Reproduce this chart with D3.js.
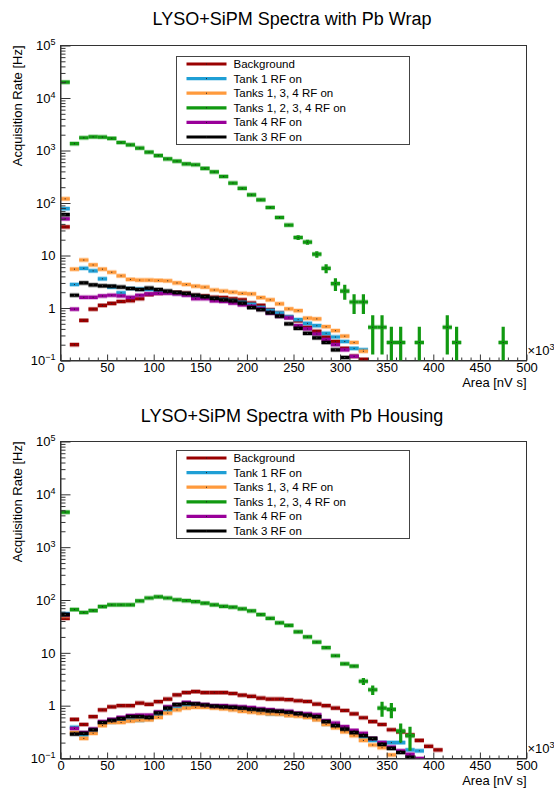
<!DOCTYPE html>
<html>
<head>
<meta charset="utf-8">
<script src="https://cdn.jsdelivr.net/npm/d3@7"></script>
<style>
  body { margin: 0; background: #fff; }
  svg { display: block; font-family: "Liberation Sans", Arial, sans-serif; }
</style>
</head>
<body>
<script>
// bin i covers [i*binWidth, (i+1)*binWidth) in units of 10^3 nV s
const binWidth = 10;
const xTicks = [0, 50, 100, 150, 200, 250, 300, 350, 400, 450, 500];
const yMajor = [0.1, 1, 10, 100, 1000, 10000, 100000];

const seriesNames = ['Background', 'Tank 1 RF on', 'Tanks 1, 3, 4 RF on', 'Tanks 1, 2, 3, 4 RF on', 'Tank 4 RF on', 'Tank 3 RF on'];
const seriesColors = ['#990000', '#1f9fd5', '#ff9a3c', '#119911', '#990099', '#000000'];

// ---- Pb Wrap (rates in Hz) ----
const wrapBackground = [35, 0.2, 0.58, 0.95, 1.12, 1.22, 1.33, 1.38, 1.5, 1.8, 1.9, 2.0, 1.98, 1.9, 1.75, 1.7, 1.6, 1.58, 1.5, 1.43, 1.24, 1.12, 0.93, 0.8, 0.67, 0.57, 0.43, 0.36, 0.28, 0.23, 0.17, 0.12, 0.105];
const wrapTank1 = [78, 2.8, 5.7, 5.1, 3.6, 2.5, 1.95, 2.35, 2.3, 2.25, 2.1, 2.0, 1.9, 1.8, 1.7, 1.6, 1.5, 1.45, 1.38, 1.28, 1.17, 1.02, 0.9, 0.8, 0.68, 0.6, 0.51, 0.46, 0.33, 0.28, 0.23, 0.17, 0.16];
const wrapTanks134 = [120, 5.5, 8.2, 6.6, 5.5, 4.8, 4.1, 3.5, 3.4, 3.4, 3.35, 3.3, 3.0, 2.8, 2.6, 2.5, 2.2, 2.1, 2.0, 1.9, 1.85, 1.58, 1.43, 1.2, 0.96, 0.89, 0.64, 0.62, 0.44, 0.37, 0.29, 0.22, 0.15];
const wrapTanks1234 = [20000, 1350, 1750, 1820, 1800, 1700, 1420, 1280, 1110, 930, 800, 690, 625, 555, 535, 455, 390, 320, 240, 190, 143, 115, 82, 53, 38, 22, 18, 10.6, 5.7, 2.9, 2.1, 1.3, 1.3, 0.43, 0.43, 0.22, 0.22, null, 0.22, null, null, 0.43, 0.22, null, null, null, null, 0.22];
const wrapTanks1234Err = [null, null, null, null, null, null, null, null, null, null, null, null, null, null, null, null, null, null, null, null, null, null, null, null, null, 2.2, 2.0, 1.5, 1.1, 0.8, 0.67, 0.53, 0.53, 0.3, 0.3, 0.22, 0.22, null, 0.22, null, null, 0.3, 0.22, null, null, null, null, 0.22];
const wrapTank4 = [50, 0.95, 1.6, 1.6, 1.7, 1.75, 1.7, 1.6, 1.75, 1.85, 1.9, 1.92, 1.85, 1.75, 1.5, 1.5, 1.37, 1.33, 1.24, 1.15, 1.07, 0.96, 0.8, 0.7, 0.65, 0.46, 0.4, 0.32, 0.25, 0.2, 0.16, 0.12];
const wrapTank3 = [60, 1.75, 3.0, 2.75, 2.65, 2.6, 2.5, 2.35, 2.25, 2.4, 2.25, 2.1, 1.98, 1.9, 1.75, 1.65, 1.53, 1.43, 1.37, 1.24, 1.02, 0.93, 0.81, 0.7, 0.5, 0.41, 0.33, 0.27, 0.22, 0.16, 0.114];

// ---- Pb Housing (rates in Hz) ----
const housBackground = [45, 0.55, 0.44, 0.62, 0.83, 0.95, 1.0, 1.0, 1.12, 1.06, 1.19, 1.33, 1.6, 1.77, 1.85, 1.77, 1.77, 1.77, 1.7, 1.58, 1.5, 1.39, 1.33, 1.33, 1.3, 1.24, 1.2, 1.07, 1.0, 0.9, 0.81, 0.7, 0.59, 0.5, 0.44, 0.35, 0.32, 0.28, 0.22, 0.17, 0.145];
const housTank1 = [55, 0.39, 0.28, 0.33, 0.47, 0.49, 0.51, 0.53, 0.53, 0.56, 0.65, 0.81, 0.89, 0.96, 1.0, 0.98, 0.96, 0.93, 0.87, 0.83, 0.78, 0.75, 0.7, 0.7, 0.67, 0.67, 0.62, 0.56, 0.45, 0.41, 0.34, 0.3, 0.26, 0.22, 0.2, 0.2, 0.2, 0.145, 0.14];
const housTanks134 = [50, 0.31, 0.24, 0.3, 0.42, 0.48, 0.48, 0.51, 0.53, 0.54, 0.6, 0.72, 0.83, 0.9, 0.93, 0.93, 0.9, 0.87, 0.83, 0.78, 0.75, 0.72, 0.7, 0.69, 0.65, 0.63, 0.6, 0.54, 0.44, 0.38, 0.32, 0.27, 0.22, 0.18, 0.16, 0.117];
const housTanks1234 = [4600, 66, 58, 63, 75, 81, 81, 81, 96, 109, 115, 109, 101, 97, 93, 87, 81, 76, 73, 68, 62, 53, 45, 37, 33, 25, 20, 16, 12.5, 8.8, 6.2, 5.6, 2.9, 2.0, 0.9, 0.85, 0.33, 0.27];
const housTanks1234Err = [null, null, null, null, null, null, null, null, null, null, null, null, null, null, null, null, null, null, null, null, null, null, null, null, null, null, null, null, null, null, null, null, 0.45, 0.4, 0.28, 0.27, 0.13, 0.13];
const housTank4 = [52, 0.37, 0.31, 0.36, 0.5, 0.55, 0.6, 0.65, 0.66, 0.66, 0.76, 0.95, 1.05, 1.15, 1.1, 1.05, 1.0, 1.0, 0.97, 0.95, 0.92, 0.87, 0.84, 0.8, 0.78, 0.72, 0.7, 0.67, 0.52, 0.47, 0.4, 0.34, 0.3, 0.24, 0.2, 0.165, 0.14, 0.12, 0.1];
const housTank3 = [53, 0.29, 0.3, 0.35, 0.48, 0.53, 0.57, 0.62, 0.62, 0.6, 0.73, 0.9, 1.05, 1.1, 1.08, 1.03, 0.98, 0.95, 0.93, 0.9, 0.86, 0.83, 0.8, 0.78, 0.75, 0.71, 0.66, 0.62, 0.5, 0.42, 0.36, 0.31, 0.27, 0.24, 0.185, 0.155, 0.13, 0.105];

const width = 554, height = 788;
const left = 60.5, right = 526.5;

const panels = [
  { title: 'LYSO+SiPM Spectra with Pb Wrap', titleY: 24.5, top: 45.5, bottom: 360.5, legendTop: 56.5,
    series: [wrapBackground, wrapTank1, wrapTanks134, wrapTanks1234, wrapTank4, wrapTank3],
    errors: [null, null, null, wrapTanks1234Err, null, null] },
  { title: 'LYSO+SiPM Spectra with Pb Housing', titleY: 421.5, top: 441.5, bottom: 758.5, legendTop: 450.5,
    series: [housBackground, housTank1, housTanks134, housTanks1234, housTank4, housTank3],
    errors: [null, null, null, housTanks1234Err, null, null] }
];

const svg = d3.select('body').append('svg')
  .attr('width', width)
  .attr('height', height);

function labelPow(textSel) {
  textSel.each(function(d) {
    const t = d3.select(this);
    const p = Math.round(Math.log10(d));
    t.text(null);
    if (p === 0) { t.text('1'); return; }
    if (p === 1) { t.text('10'); return; }
    t.append('tspan').text('10');
    t.append('tspan').attr('dy', '-0.55em').style('font-size', '9px')
      .text(String(p).replace('-', '\u2212'));
  });
}

panels.forEach((p, pi) => {
  const g = svg.append('g');
  const x = d3.scaleLinear().domain([0, 500]).range([left, right]);
  const y = d3.scaleLog().domain([0.1, 1e5]).range([p.bottom, p.top]);

  const clipId = 'clip' + pi;
  g.append('clipPath').attr('id', clipId)
    .append('rect')
    .attr('x', left).attr('y', p.top)
    .attr('width', right - left).attr('height', p.bottom - p.top);

  // title
  g.append('text')
    .attr('x', 292).attr('y', p.titleY)
    .attr('text-anchor', 'middle')
    .style('font-size', '18px')
    .text(p.title);

  // frame
  g.append('rect')
    .attr('x', left).attr('y', p.top)
    .attr('width', right - left).attr('height', p.bottom - p.top)
    .attr('fill', 'none').attr('stroke', '#333').attr('stroke-width', 1);

  // data
  const plot = g.append('g').attr('clip-path', `url(#${clipId})`);
  p.series.forEach((vals, k) => {
    const color = seriesColors[k];
    const errs = p.errors[k];
    const pts = vals.map((v, i) => ({ i: i, v: v, e: errs ? errs[i] : null }))
      .filter(d => d.v != null && d.v > 0);
    const sg = plot.append('g');
    // soft edge
    sg.selectAll('line.halo').data(pts).enter().append('line')
      .attr('x1', d => x(d.i * binWidth))
      .attr('x2', d => x((d.i + 1) * binWidth))
      .attr('y1', d => y(d.v)).attr('y2', d => y(d.v))
      .attr('stroke', color).attr('stroke-opacity', 0.35).attr('stroke-width', 5);
    sg.selectAll('line.bar').data(pts).enter().append('line')
      .attr('x1', d => x(d.i * binWidth))
      .attr('x2', d => x((d.i + 1) * binWidth))
      .attr('y1', d => y(d.v)).attr('y2', d => y(d.v))
      .attr('stroke', color).attr('stroke-width', 3.2);
    // vertical error bars
    const ep = pts.filter(d => d.e);
    sg.selectAll('line.err').data(ep).enter().append('line')
      .attr('x1', d => x((d.i + 0.5) * binWidth))
      .attr('x2', d => x((d.i + 0.5) * binWidth))
      .attr('y1', d => y(Math.min(1e5, d.v + d.e)))
      .attr('y2', d => (d.v - d.e > 0.1 ? y(d.v - d.e) : p.bottom + 2))
      .attr('stroke', color).attr('stroke-width', 3.2);
    // marker dot
    sg.selectAll('rect.dot').data(pts).enter().append('rect')
      .attr('x', d => x((d.i + 0.5) * binWidth) - 0.5)
      .attr('y', d => y(d.v) - 0.5)
      .attr('width', 1).attr('height', 1)
      .attr('fill', k === 5 ? '#555' : '#222');
  });

  // y axis: minor then major ticks, pointing inwards
  const minorY = y.ticks().filter(v => !yMajor.includes(v));
  g.append('g')
    .attr('transform', `translate(${left},0)`)
    .call(d3.axisLeft(y).tickValues(minorY).tickSize(-5).tickFormat(''))
    .call(a => a.select('.domain').remove());
  const yAx = g.append('g')
    .attr('transform', `translate(${left},0)`)
    .call(d3.axisLeft(y).tickValues(yMajor).tickSize(-10).tickSizeOuter(0).tickPadding(5));
  yAx.selectAll('text').style('font-size', '13px').call(labelPow);

  // x axis
  const minorX = d3.range(0, 501, binWidth).filter(v => !xTicks.includes(v));
  g.append('g')
    .attr('transform', `translate(0,${p.bottom})`)
    .call(d3.axisBottom(x).tickValues(minorX).tickSize(-3).tickFormat(''))
    .call(a => a.select('.domain').remove());
  const xAx = g.append('g')
    .attr('transform', `translate(0,${p.bottom})`)
    .call(d3.axisBottom(x).tickValues(xTicks).tickSize(-6).tickSizeOuter(0).tickPadding(2).tickFormat(d3.format('d')));
  xAx.selectAll('text').style('font-size', '13px');
  g.selectAll('.tick line, .domain').attr('stroke', '#333');
  g.selectAll('.tick text').attr('fill', '#000');

  // x10^3 multiplier
  const mult = g.append('text')
    .attr('x', right + 1).attr('y', p.bottom - 6)
    .style('font-size', '13px');
  mult.append('tspan').text('\u00d710');
  mult.append('tspan').attr('dy', '-0.55em').style('font-size', '9px').text('3');

  // axis titles
  g.append('text')
    .attr('x', right).attr('y', p.bottom + 26)
    .attr('text-anchor', 'end')
    .style('font-size', '13px')
    .text('Area [nV s]');
  g.append('text')
    .attr('transform', `translate(22,${p.top}) rotate(-90)`)
    .attr('text-anchor', 'end')
    .style('font-size', '13px')
    .text('Acquisition Rate [Hz]');

  // legend
  const lg = g.append('g').attr('transform', `translate(176.5,${p.legendTop})`);
  lg.append('rect')
    .attr('width', 233).attr('height', 88)
    .attr('fill', '#fff').attr('stroke', '#444');
  seriesNames.forEach((name, k) => {
    const ry = 7.5 + k * 14.6;
    lg.append('line')
      .attr('x1', 10).attr('x2', 50).attr('y1', ry).attr('y2', ry)
      .attr('stroke', seriesColors[k]).attr('stroke-width', 3.2);
    lg.append('rect')
      .attr('x', 29.5).attr('y', ry - 0.5).attr('width', 1).attr('height', 1)
      .attr('fill', '#222');
    lg.append('text')
      .attr('x', 57).attr('y', ry + 4)
      .style('font-size', '11.5px')
      .text(name);
  });
});
</script>
</body>
</html>
